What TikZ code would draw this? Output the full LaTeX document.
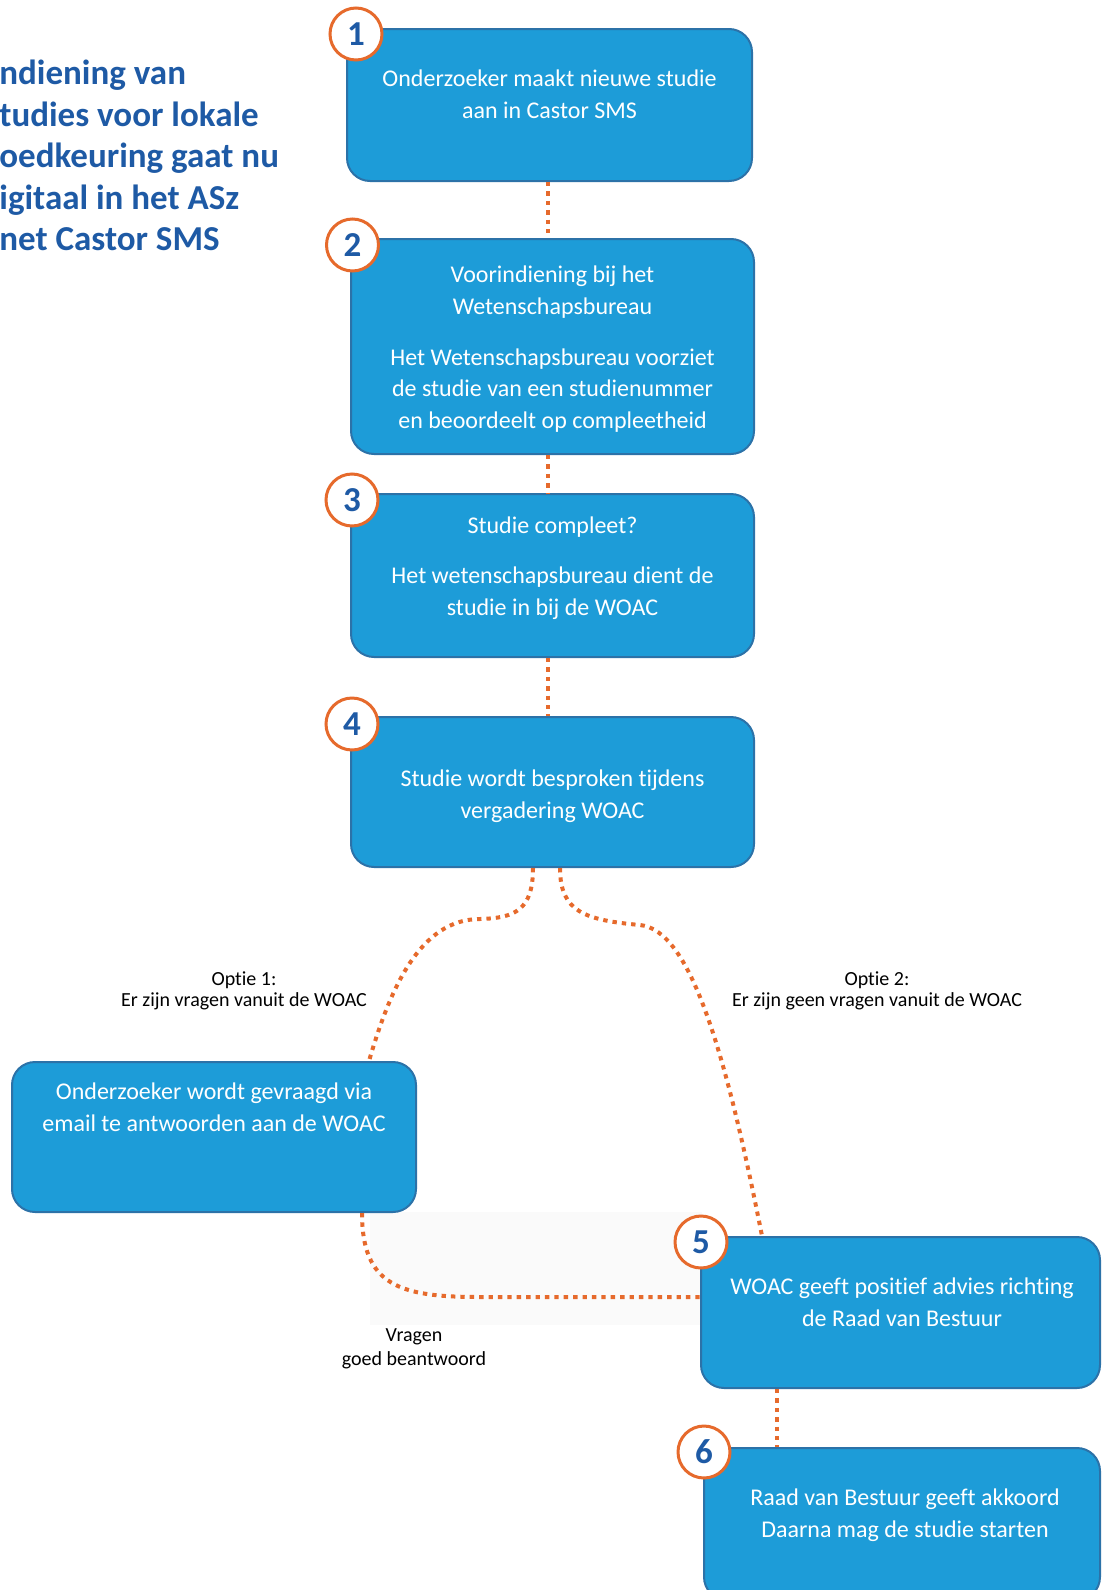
\documentclass[tikz,border=0pt]{standalone}
\usepackage{fontspec}
\setmainfont{Carlito}[Ligatures={NoCommon}]
\usetikzlibrary{calc}
\definecolor{boxfill}{RGB}{29,156,216}
\definecolor{boxline}{RGB}{44,114,168}
\definecolor{orng}{RGB}{230,106,44}
\definecolor{ttl}{RGB}{30,90,165}
\definecolor{faint}{RGB}{250,250,250}
\tikzset{
  stepbox/.style={draw=boxline, line width=1pt, fill=boxfill, rounded corners=11.5pt, inner sep=0pt},
  boxtext/.style={text=white, font=\fontsize{12}{15.75}\selectfont, align=center, anchor=base, inner sep=0pt},
  numcirc/.style={circle, draw=orng, line width=1.5pt, fill=white, minimum size=26pt, inner sep=0pt, text=ttl, font=\fontsize{17.5}{20}\selectfont\bfseries},
  dotline/.style={draw=orng, line width=2pt, dash pattern=on 2.2pt off 2.5pt},
  lbl/.style={font=\fontsize{10}{10.3}\selectfont, align=center, anchor=base, inner sep=0pt, text=black},
  ttltext/.style={font=\fontsize{17.5}{20.7}\selectfont\bfseries, text=ttl, align=left, anchor=base west, inner sep=0pt}
}
\begin{document}
\begin{tikzpicture}[x=0.5pt,y=-0.5pt]
\useasboundingbox (0,0) rectangle (1102,1590);
\clip (0,0) rectangle (1102,1590);
\fill[faint] (370,1212) rectangle (702,1325);

% title (anchor = baseline of last line)
\node[ttltext] (title) at (-1,250.5) {ndiening van\\tudies voor lokale\\oedkeuring gaat nu\\igitaal in het ASz\\net Castor SMS};

% boxes
\node[stepbox, minimum width=202.5pt, minimum height=76pt] (b1) at (549.5,105) {};
\node[stepbox, minimum width=201.5pt, minimum height=107.5pt] (b2) at (552.5,346.5) {};
\node[stepbox, minimum width=201.5pt, minimum height=81.5pt] (b3) at (552.5,575.5) {};
\node[stepbox, minimum width=201.5pt, minimum height=75pt] (b4) at (552.5,792) {};
\node[stepbox, minimum width=202pt, minimum height=75pt] (bq) at (214,1137) {};
\node[stepbox, minimum width=199.5pt, minimum height=75.5pt] (b5) at (900.5,1312.5) {};
\node[stepbox, minimum width=198pt, minimum height=76pt] (b6) at (902,1524) {};

% box texts (anchor = baseline of last line)
\node[boxtext] (t1) at (549.5,118) {Onderzoeker maakt nieuwe studie\\aan in Castor SMS};
\node[boxtext] (t2) at (552.5,428) {Voorindiening bij het\\Wetenschapsbureau\\[9.75pt]Het Wetenschapsbureau voorziet\\de studie van een studienummer\\en beoordeelt op compleetheid};
\node[boxtext] (t3) at (552.5,615) {Studie compleet?\\[9.25pt]Het wetenschapsbureau dient de\\studie in bij de WOAC};
\node[boxtext] (t4) at (552.5,818) {Studie wordt besproken tijdens\\vergadering WOAC};
\node[boxtext] (tq) at (214,1131) {Onderzoeker wordt gevraagd via\\email te antwoorden aan de WOAC};
\node[boxtext] (t5) at (902,1326) {WOAC geeft positief advies richting\\de Raad van Bestuur};
\node[boxtext] (t6) at (905,1537) {Raad van Bestuur geeft akkoord\\Daarna mag de studie starten};

% labels
\node[lbl] (o1) at (244,1006) {Optie 1:\\Er zijn vragen vanuit de WOAC};
\node[lbl] (o2) at (877,1006) {Optie 2:\\Er zijn geen vragen vanuit de WOAC};
\node[lbl, font=\fontsize{10}{12}\selectfont] (vr) at (414,1365) {Vragen\\goed beantwoord};

% connectors
\coordinate (s12) at ($(b1.south)+(-1.5,0)$);
\draw[dotline] (s12) -- (s12 |- b2.north);
\coordinate (s23) at ($(b2.south)+(-4.5,0)$);
\draw[dotline] (s23) -- (s23 |- b3.north);
\coordinate (s34) at ($(b3.south)+(-4.5,0)$);
\draw[dotline] (s34) -- (s34 |- b4.north);

\coordinate (s4l) at ($(b4.south)+(-19.5,0)$);
\coordinate (m4l) at (480,919);
\coordinate (eq) at ($(bq.north)+(155,0)$);
\draw[dotline] (s4l) .. controls +(0,42) and +(35,-1) .. (m4l) .. controls +(-60,0) and +(21,-72) .. (eq);

\coordinate (s4r) at ($(b4.south)+(7.5,0)$);
\coordinate (m4r) at (640,925);
\coordinate (e5) at ($(b5.north)+(-138.5,0)$);
\draw[dotline] (s4r) .. controls +(0,44) and +(-55,-5) .. (m4r) .. controls +(50,5) and +(-37,-187) .. (e5);

\coordinate (sq) at ($(bq.south)+(148,0)$);
\coordinate (e5w) at ($(b5.west)+(0,-15.5)$);
\coordinate (m5) at (480,1297);
\draw[dotline] (sq) .. controls +(0,73) and +(-80,0) .. (m5) -- (e5w);

\coordinate (s56) at ($(b5.south)+(-123.5,0)$);
\draw[dotline] (s56) -- (s56 |- b6.north);

% number circles
\node[numcirc] (n1) at (356,34) {1};
\node[numcirc] (n2) at (352.5,245) {2};
\node[numcirc] (n3) at (352,500) {3};
\node[numcirc] (n4) at (352,724) {4};
\node[numcirc] (n5) at (701,1242) {5};
\node[numcirc] (n6) at (704,1452) {6};
\end{tikzpicture}
\end{document}
